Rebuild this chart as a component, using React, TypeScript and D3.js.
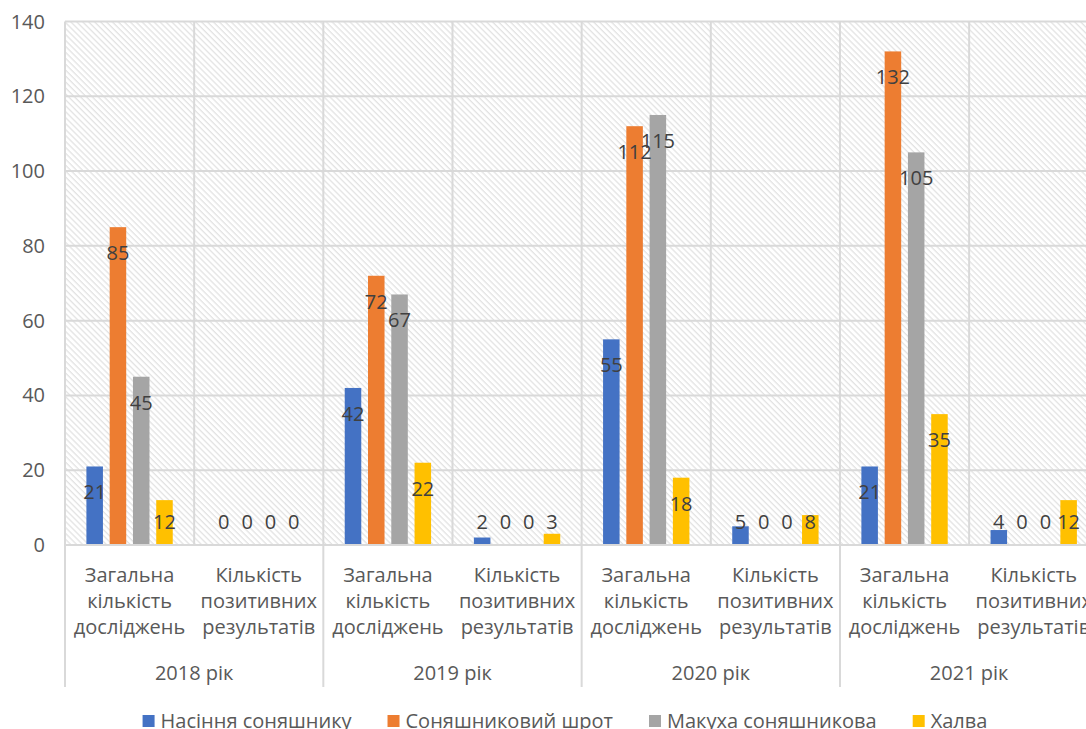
import React, { useEffect, useRef } from 'react'
import * as d3 from 'd3'

const years = ['2018 рік', '2019 рік', '2020 рік', '2021 рік']
const kinds = [['Загальна', 'кількість', 'досліджень'], ['Кількість', 'позитивних', 'результатів']]
const seriesNames = ['Насіння соняшнику', 'Соняшниковий шрот', 'Макуха соняшникова', 'Халва']
const seriesColors = ['#4472C4', '#ED7D31', '#A5A5A5', '#FFC000']

// one value per category: year x (total, positive)
const seeds = [21, 0, 42, 2, 55, 5, 21, 4]
const meal = [85, 0, 72, 0, 112, 0, 132, 0]
const cake = [45, 0, 67, 0, 115, 0, 105, 0]
const halva = [12, 0, 22, 3, 18, 8, 35, 12]
const seriesValues = [seeds, meal, cake, halva]

const yTicks = [0, 20, 40, 60, 80, 100, 120, 140]

const W = 1086
const H = 729
const FONT = '"Open Sans", sans-serif'
const FS = 20

const App: React.FC = () => {
  const svgRef = useRef<SVGSVGElement>(null)

  useEffect(() => {
    if (!svgRef.current) return
    const svg = d3.select(svgRef.current)
    svg.selectAll('*').remove()

    const left = 65
    const right = 1098.3
    const top = 21.5
    const bottom = 545

    const cats = d3.range(years.length * 2)
    const x = d3.scaleBand<number>().domain(cats).range([left, right]).padding(0)
    const xs = d3.scaleBand<number>().domain(d3.range(seriesNames.length))
      .range([0, x.bandwidth()]).paddingInner(0.29).paddingOuter(0.92)
    const y = d3.scaleLinear().domain([0, 140]).range([bottom, top])

    // hatched plot background
    const defs = svg.append('defs')
    const pat = defs.append('pattern')
      .attr('id', 'hatch')
      .attr('patternUnits', 'userSpaceOnUse')
      .attr('width', 4.2)
      .attr('height', 4.2)
      .attr('patternTransform', 'rotate(-45)')
    pat.append('rect').attr('width', 4.2).attr('height', 4.2).attr('fill', '#fff')
    pat.append('line')
      .attr('x1', 1).attr('y1', 0).attr('x2', 1).attr('y2', 4.2)
      .attr('stroke', '#dedede').attr('stroke-width', 1.1)

    svg.append('rect')
      .attr('x', left).attr('y', top)
      .attr('width', right - left).attr('height', bottom - top)
      .attr('fill', 'url(#hatch)')

    // gridlines
    svg.append('g').selectAll('line')
      .data(yTicks)
      .enter().append('line')
      .attr('x1', left).attr('x2', right)
      .attr('y1', d => y(d)).attr('y2', d => y(d))
      .attr('stroke', '#d9d9d9').attr('stroke-width', 2)

    svg.append('g').selectAll('line')
      .data(cats)
      .enter().append('line')
      .attr('x1', d => x(d)!).attr('x2', d => x(d)!)
      .attr('y1', top).attr('y2', bottom)
      .attr('stroke', '#d9d9d9').attr('stroke-width', 2)

    // y tick labels
    svg.append('g').selectAll('text')
      .data(yTicks)
      .enter().append('text')
      .attr('x', 45)
      .attr('y', d => y(d))
      .attr('dy', '0.35em')
      .attr('text-anchor', 'end')
      .attr('font-family', FONT)
      .attr('font-size', FS)
      .attr('fill', '#595959')
      .text(d => d)

    // bars
    seriesValues.forEach((vals, si) => {
      svg.append('g').selectAll('rect')
        .data(vals)
        .enter().append('rect')
        .attr('x', (_, i) => x(i)! + xs(si)!)
        .attr('width', xs.bandwidth())
        .attr('y', d => y(d))
        .attr('height', d => y(0) - y(d))
        .attr('fill', seriesColors[si])
    })

    // data labels (inside end)
    seriesValues.forEach((vals, si) => {
      svg.append('g').selectAll('text')
        .data(vals)
        .enter().append('text')
        .attr('x', (_, i) => x(i)! + xs(si)! + xs.bandwidth() / 2)
        .attr('y', d => Math.min(y(d) + 26, y(0) - 23))
        .attr('dy', '0.35em')
        .attr('text-anchor', 'middle')
        .attr('font-family', FONT)
        .attr('font-size', FS)
        .attr('fill', '#404040')
        .text(d => d)
    })

    // category axis
    const axisBottom = 687
    svg.append('line')
      .attr('x1', left).attr('x2', right)
      .attr('y1', bottom).attr('y2', bottom)
      .attr('stroke', '#d9d9d9').attr('stroke-width', 2)

    svg.append('g').selectAll('line')
      .data(d3.range(years.length + 1))
      .enter().append('line')
      .attr('x1', d => left + d * 2 * x.bandwidth())
      .attr('x2', d => left + d * 2 * x.bandwidth())
      .attr('y1', bottom).attr('y2', axisBottom)
      .attr('stroke', '#d9d9d9').attr('stroke-width', 2)

    cats.forEach(c => {
      const lines = kinds[c % 2]
      const t = svg.append('text')
        .attr('text-anchor', 'middle')
        .attr('font-family', FONT)
        .attr('font-size', FS)
        .attr('fill', '#595959')
      lines.forEach((l, li) => {
        t.append('tspan')
          .attr('x', x(c)! + x.bandwidth() / 2)
          .attr('y', 575 + li * 26)
          .attr('dy', '0.35em')
          .text(l)
      })
    })

    svg.append('g').selectAll('text')
      .data(years)
      .enter().append('text')
      .attr('x', (_, i) => left + (i * 2 + 1) * x.bandwidth())
      .attr('y', 673)
      .attr('dy', '0.35em')
      .attr('text-anchor', 'middle')
      .attr('font-family', FONT)
      .attr('font-size', FS)
      .attr('fill', '#595959')
      .text(d => d)

    // legend
    const legend = svg.append('g')
    const sq = 12
    const gapIn = 6
    const gapOut = 36
    let cx = 0
    seriesNames.forEach((name, i) => {
      const g = legend.append('g').attr('transform', `translate(${cx},0)`)
      g.append('rect')
        .attr('x', 0).attr('y', -sq / 2)
        .attr('width', sq).attr('height', sq)
        .attr('fill', seriesColors[i])
      const t = g.append('text')
        .attr('x', sq + gapIn)
        .attr('dy', '0.35em')
        .attr('font-family', FONT)
        .attr('font-size', FS)
        .attr('fill', '#595959')
        .text(name)
      const tw = (t.node() as SVGTextElement).getComputedTextLength()
      cx += sq + gapIn + tw + gapOut
    })
    const total = cx - gapOut
    legend.attr('transform', `translate(${565 - total / 2},721)`)
  }, [])

  return (
    <svg
      ref={svgRef}
      width={W}
      height={H}
      style={{ position: 'absolute', left: 0, top: 0, background: '#fff' }}
    />
  )
}

export default App
